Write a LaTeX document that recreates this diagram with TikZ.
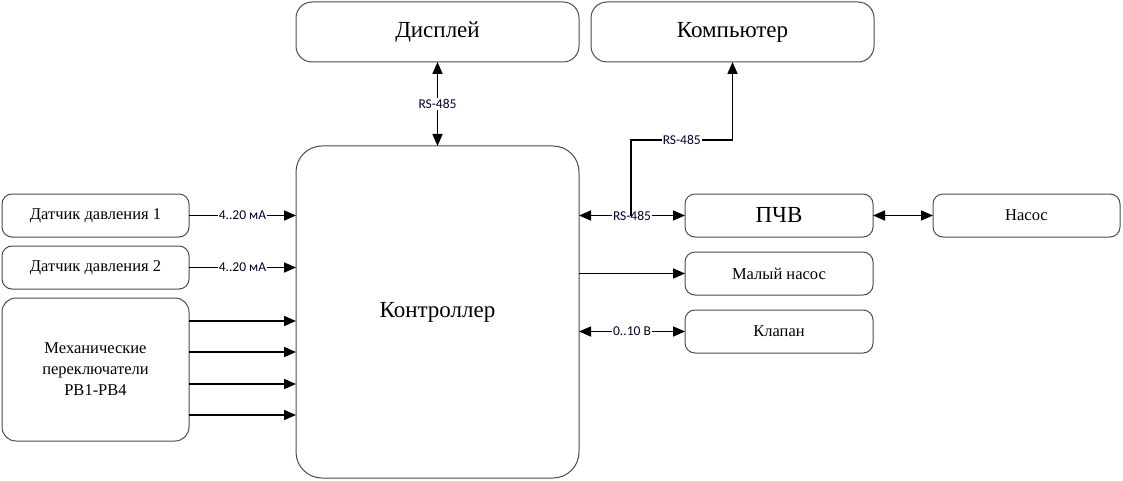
\documentclass[tikz,border=0pt]{standalone}
\usepackage{fontspec}
\setmainfont{Liberation Serif}
\newfontfamily\lblfont{Carlito}
\usetikzlibrary{arrows.meta}

\tikzset{
  blok/.style={draw=black!70, line width=1pt, rounded corners=10pt, fill=white,
    inner sep=2pt, outer sep=0pt, align=center, font=\fontsize{16.5}{21}\selectfont},
  bigblok/.style={blok, rounded corners=16pt, font=\fontsize{23}{27}\selectfont},
  arr/.style={line width=1.6pt, -{Triangle[length=12pt, width=10pt]}},
  darr/.style={line width=1.6pt, {Triangle[length=12pt, width=10pt]}-{Triangle[length=12pt, width=10pt]}},
  lbl/.style={fill=white, inner sep=1pt, font=\lblfont\fontsize{13.5}{15}\selectfont, text=black!85!blue}
}

\begin{document}
\begin{tikzpicture}[x=1pt, y=-1pt]
  \useasboundingbox (0,0) rectangle (1123,481);
  % blocks
  \node[bigblok, minimum width=283pt, minimum height=60pt] (disp) at (437.5,32) {Дисплей};
  \node[bigblok, minimum width=283pt, minimum height=60pt] (comp) at (732.5,32) {Компьютер};
  \node[bigblok, rounded corners=26pt, minimum width=283pt, minimum height=332pt] (ctrl) at (437.5,312) {Контроллер};
  \node[blok, minimum width=187pt, minimum height=43pt] (sens1) at (95.5,215.5) {Датчик давления 1};
  \node[blok, minimum width=187pt, minimum height=43pt] (sens2) at (95.5,267.5) {Датчик давления 2};
  \node[blok, rounded corners=14pt, minimum width=187pt, minimum height=143pt] (mech) at (95.5,369.5) {Механические\\переключатели\\РВ1-РВ4};
  \node[blok, font=\fontsize{23}{27}\selectfont, minimum width=188pt, minimum height=43pt] (pchv) at (779,215.5) {ПЧВ};
  \node[blok, minimum width=187pt, minimum height=43pt] (pump) at (1026.5,215.5) {Насос};
  \node[blok, minimum width=188pt, minimum height=43pt] (small) at (779,273.5) {Малый насос};
  \node[blok, minimum width=188pt, minimum height=43pt] (valve) at (779,331.5) {Клапан};

  % connections
  \draw[darr] (disp) -- node[lbl] {RS-485} (ctrl);
  \draw[darr] (ctrl.east |- pchv) -- node[lbl] {RS-485} (pchv);
  \coordinate (br) at (631,215.5);
  \coordinate (kn) at (631,140);
  \draw[arr] (br) -- (kn) -- node[lbl] {RS-485} (kn -| comp.south) -- (comp.south);
  \draw[arr] (sens1) -- node[lbl] {4..20 мА} (ctrl.west |- sens1);
  \draw[arr] (sens2) -- node[lbl] {4..20 мА} (ctrl.west |- sens2);
  \draw[arr] (ctrl.east |- small) -- (small);
  \draw[darr] (ctrl.east |- valve) -- node[lbl] {0..10 В} (valve);
  \draw[darr] (pchv) -- (pump);
  \foreach \y in {321,352,384,415}
    \draw[arr] (mech.east |- 0,\y) -- (ctrl.west |- 0,\y);
\end{tikzpicture}
\end{document}
